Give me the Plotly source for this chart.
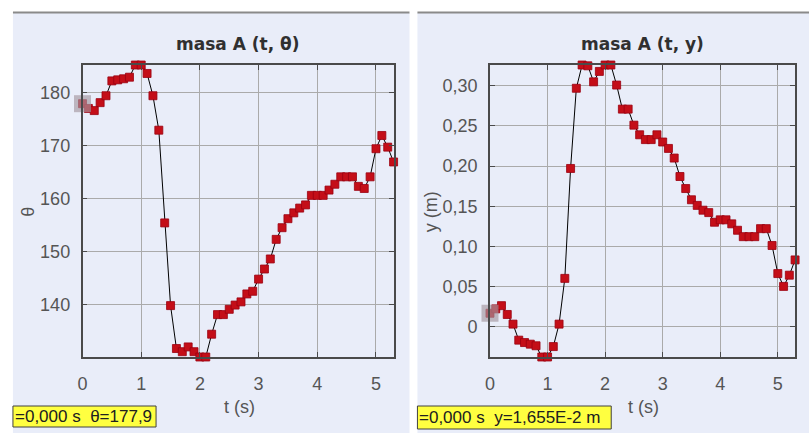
import plotly.graph_objects as go

W, H = 809, 433

# ---------------- data ----------------
t_s = [0.0, 0.1, 0.2, 0.3, 0.4, 0.5, 0.6, 0.7, 0.8, 0.9,
       1.0, 1.1, 1.2, 1.3, 1.4, 1.5, 1.6, 1.7, 1.8, 1.9,
       2.0, 2.1, 2.2, 2.3, 2.4, 2.5, 2.6, 2.7, 2.8, 2.9,
       3.0, 3.1, 3.2, 3.3, 3.4, 3.5, 3.6, 3.7, 3.8, 3.9,
       4.0, 4.1, 4.2, 4.3, 4.4, 4.5, 4.6, 4.7, 4.8, 4.9,
       5.0, 5.1, 5.2, 5.3]

theta = [177.9, 177.0, 176.6, 178.1, 179.4, 182.2, 182.4, 182.6, 182.9, 185.2,
         185.2, 183.6, 179.4, 172.9, 155.4, 139.8, 131.7, 131.1, 132.0, 131.1,
         130.1, 130.1, 134.4, 138.1, 138.1, 139.1, 139.9, 140.5, 142.0, 142.5,
         144.8, 146.7, 148.6, 152.3, 154.5, 156.2, 157.3, 158.2, 158.8, 160.6,
         160.6, 160.6, 161.6, 162.7, 164.1, 164.1, 164.1, 162.3, 161.9, 164.1,
         169.4, 171.9, 169.7, 166.9]

y_m = [0.01655, 0.022, 0.026, 0.015, 0.003, -0.017, -0.020, -0.022, -0.024, -0.038,
       -0.038, -0.025, 0.003, 0.060, 0.197, 0.297, 0.326, 0.325, 0.305, 0.318,
       0.326, 0.326, 0.301, 0.271, 0.271, 0.251, 0.239, 0.233, 0.233, 0.239,
       0.230, 0.222, 0.210, 0.187, 0.172, 0.158, 0.151, 0.145, 0.142, 0.130,
       0.133, 0.133, 0.128, 0.120, 0.112, 0.112, 0.112, 0.122, 0.122, 0.101,
       0.066, 0.050, 0.064, 0.083]

x_tickvals = [0, 1, 2, 3, 4, 5]
x_ticktext = ["0", "1", "2", "3", "4", "5"]
theta_tickvals = [140, 150, 160, 170, 180]
theta_ticktext = ["140", "150", "160", "170", "180"]
y_tickvals = [0, 0.05, 0.10, 0.15, 0.20, 0.25, 0.30]
y_ticktext = ["0", "0,05", "0,10", "0,15", "0,20", "0,25", "0,30"]

title_left = "masa A (t, θ)"
title_right = "masa A (t, y)"
xlabel = "t (s)"
ylabel_left = "θ"
ylabel_right = "y (m)"
readout_left = "=0,000 s  θ=177,9"
readout_right = "=0,000 s  y=1,655E-2 m"

# ---------------- helpers ----------------
def px(x):
    return x / W

def py(y):
    return 1 - y / H

PANEL = "#e9edf9"
RED = "#c40e18"
GRID = "#aaaaaa"
AXIS = "#4a4a4a"
TXT = "#555555"

fig = go.Figure()

# line + markers
for xa, ya, yy in [("x", "y", theta), ("x2", "y2", y_m)]:
    fig.add_trace(go.Scatter(
        x=t_s, y=yy, xaxis=xa, yaxis=ya, mode="lines",
        line=dict(color="black", width=1), hoverinfo="skip", showlegend=False,
        cliponaxis=False))
    fig.add_trace(go.Scatter(
        x=t_s, y=yy, xaxis=xa, yaxis=ya, mode="markers",
        marker=dict(symbol="square", size=8, color=RED,
                    line=dict(color="#9a0010", width=0.8)),
        showlegend=False, cliponaxis=False))
    # highlighted first point
    fig.add_trace(go.Scatter(
        x=t_s[:1], y=yy[:1], xaxis=xa, yaxis=ya, mode="markers",
        marker=dict(symbol="square", size=17, color="rgba(165,150,160,0.65)",
                    line=dict(width=0)),
        showlegend=False, cliponaxis=False))

ax_common = dict(
    showline=True, linecolor=AXIS, linewidth=1.5, mirror="ticks",
    showgrid=True, gridcolor=GRID, gridwidth=1, zeroline=False,
    ticks="inside", ticklen=5, tickcolor=AXIS, tickwidth=1,
    tickfont=dict(family="Liberation Sans, Arial, sans-serif", size=18, color=TXT),
    tickmode="array",
)

fig.update_layout(
    width=W, height=H, margin=dict(l=0, r=0, t=0, b=0),
    paper_bgcolor="white", plot_bgcolor="white",
    xaxis=dict(ax_common, domain=[px(78), px(391)], range=[0, 5.3],
               tickvals=x_tickvals, ticktext=x_ticktext, anchor="y",
               ticklabelstandoff=10),
    yaxis=dict(ax_common, domain=[py(357), py(65)], range=[min(theta), max(theta)],
               tickvals=theta_tickvals, ticktext=theta_ticktext, anchor="x",
               ticklabelstandoff=7),
    xaxis2=dict(ax_common, domain=[px(488), px(795)], range=[0, 5.3],
                tickvals=x_tickvals, ticktext=x_ticktext, anchor="y2",
                ticklabelstandoff=10),
    yaxis2=dict(ax_common, domain=[py(357), py(65)], range=[min(y_m), max(y_m)],
                tickvals=y_tickvals, ticktext=y_ticktext, anchor="x2",
                ticklabelstandoff=7),
)

shapes = []
# panel backgrounds
shapes.append(dict(type="rect", xref="paper", yref="paper", layer="below",
                   x0=px(8), x1=px(407), y0=0, y1=py(13),
                   fillcolor=PANEL, line=dict(width=0)))
shapes.append(dict(type="rect", xref="paper", yref="paper", layer="below",
                   x0=px(415), x1=1, y0=0, y1=py(13),
                   fillcolor=PANEL, line=dict(width=0)))
# top border lines
shapes.append(dict(type="line", xref="paper", yref="paper", layer="below",
                   x0=px(8), x1=px(407), y0=py(12.5), y1=py(12.5),
                   line=dict(color="#8a8a8a", width=2)))
shapes.append(dict(type="line", xref="paper", yref="paper", layer="below",
                   x0=px(415), x1=1, y0=py(12.5), y1=py(12.5),
                   line=dict(color="#8a8a8a", width=2)))
# readout boxes
shapes.append(dict(type="rect", xref="paper", yref="paper",
                   x0=px(8), x1=px(152), y0=py(427), y1=py(406),
                   fillcolor="#ffff40", line=dict(color="#404040", width=1)))
shapes.append(dict(type="rect", xref="paper", yref="paper",
                   x0=px(415), x1=px(610), y0=py(429), y1=py(406),
                   fillcolor="#ffff40", line=dict(color="#404040", width=1)))

annotations = []
TITLE_FONT = dict(family="DejaVu Sans, sans-serif", size=17, color="#303030")
LAB_FONT = dict(family="Liberation Sans, Arial, sans-serif", size=18, color=TXT)
annotations.append(dict(text="<b>%s</b>" % title_left, x=px(234.5), y=py(44),
                        xref="paper", yref="paper", showarrow=False,
                        xanchor="center", yanchor="middle", font=TITLE_FONT))
annotations.append(dict(text="<b>%s</b>" % title_right, x=px(641.5), y=py(44),
                        xref="paper", yref="paper", showarrow=False,
                        xanchor="center", yanchor="middle", font=TITLE_FONT))
annotations.append(dict(text=xlabel, x=px(236), y=py(407), xref="paper", yref="paper",
                        showarrow=False, xanchor="center", yanchor="middle", font=LAB_FONT))
annotations.append(dict(text=xlabel, x=px(642), y=py(407), xref="paper", yref="paper",
                        showarrow=False, xanchor="center", yanchor="middle", font=LAB_FONT))
annotations.append(dict(text=ylabel_left, x=px(23), y=py(212), xref="paper", yref="paper",
                        showarrow=False, xanchor="center", yanchor="middle",
                        textangle=-90, font=LAB_FONT))
annotations.append(dict(text=ylabel_right, x=px(429), y=py(212), xref="paper", yref="paper",
                        showarrow=False, xanchor="center", yanchor="middle",
                        textangle=-90, font=LAB_FONT))
READ_FONT = dict(family="Liberation Sans, Arial, sans-serif", size=17, color="#202020")
annotations.append(dict(text=readout_left, x=px(8), y=py(416.5), xref="paper", yref="paper",
                        showarrow=False, xanchor="left", yanchor="middle", font=READ_FONT))
annotations.append(dict(text=readout_right, x=px(415), y=py(417.5), xref="paper", yref="paper",
                        showarrow=False, xanchor="left", yanchor="middle", font=READ_FONT))

fig.update_layout(shapes=shapes, annotations=annotations)

fig.write_html(
    "out.html",
    config={"displayModeBar": False},
    post_script="document.body.style.margin='0';document.body.style.padding='0';"
                "document.body.style.overflow='hidden';",
)
